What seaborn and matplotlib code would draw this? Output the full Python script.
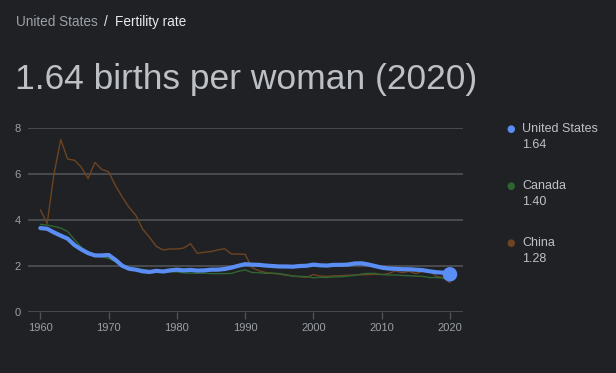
import numpy as np
import pandas as pd
import seaborn as sns
import matplotlib.pyplot as plt

# Fertility rate (births per woman)
years = list(range(1960, 2021))

us_rate = [3.65, 3.62, 3.46, 3.32, 3.19, 2.91, 2.72, 2.56, 2.46, 2.46,
           2.48, 2.27, 2.01, 1.88, 1.84, 1.77, 1.74, 1.79, 1.76, 1.81,
           1.84, 1.81, 1.83, 1.80, 1.81, 1.84, 1.84, 1.87, 1.93, 2.01,
           2.08, 2.06, 2.05, 2.02, 2.00, 1.98, 1.98, 1.97, 2.00, 2.01,
           2.06, 2.03, 2.02, 2.05, 2.05, 2.06, 2.11, 2.12, 2.07, 2.00,
           1.93, 1.89, 1.88, 1.86, 1.86, 1.84, 1.82, 1.77, 1.73, 1.71,
           1.64]

canada_rate = [3.81, 3.78, 3.72, 3.65, 3.50, 3.15, 2.81, 2.60, 2.45, 2.40,
               2.33, 2.19, 2.02, 1.93, 1.87, 1.85, 1.80, 1.77, 1.76, 1.76,
               1.74, 1.70, 1.69, 1.68, 1.69, 1.67, 1.67, 1.67, 1.68, 1.77,
               1.83, 1.72, 1.71, 1.68, 1.69, 1.67, 1.62, 1.56, 1.55, 1.54,
               1.49, 1.51, 1.50, 1.53, 1.53, 1.56, 1.59, 1.65, 1.68, 1.68,
               1.63, 1.61, 1.61, 1.59, 1.58, 1.56, 1.55, 1.50, 1.50, 1.47,
               1.40]

china_rate = [4.45, 3.85, 6.00, 7.50, 6.65, 6.60, 6.30, 5.80, 6.50, 6.20,
              6.10, 5.50, 5.00, 4.55, 4.20, 3.60, 3.25, 2.85, 2.70, 2.74,
              2.74, 2.78, 2.97, 2.55, 2.60, 2.63, 2.70, 2.75, 2.52, 2.52,
              2.51, 1.93, 1.80, 1.72, 1.68, 1.65, 1.60, 1.57, 1.53, 1.51,
              1.63, 1.56, 1.55, 1.57, 1.58, 1.60, 1.61, 1.62, 1.63, 1.64,
              1.63, 1.67, 1.79, 1.71, 1.77, 1.67, 1.77, 1.81, 1.55, 1.50,
              1.28]

countries = ["United States", "Canada", "China"]
latest = ["1.64", "1.40", "1.28"]
colors = {"United States": "#5a8ef5", "Canada": "#2f6533", "China": "#6e4420"}

BG = "#202124"
GRID = "#505256"
MUTED = "#9aa0a6"

sns.set_theme(style="dark")
plt.rcParams["font.family"] = ["Liberation Sans", "DejaVu Sans"]

df = pd.concat([
    pd.DataFrame({"year": years, "rate": us_rate, "country": "United States"}),
    pd.DataFrame({"year": years, "rate": canada_rate, "country": "Canada"}),
    pd.DataFrame({"year": years, "rate": china_rate, "country": "China"}),
])

fig = plt.figure(figsize=(6.16, 3.73), dpi=100, facecolor=BG)
ax = fig.add_axes([0.0455, 0.1635, 0.706, 0.4933])
ax.set_facecolor(BG)

# draw thin lines first, US on top
for name, lw in [("China", 1.0), ("Canada", 1.0), ("United States", 3.0)]:
    sub = df[df["country"] == name]
    sns.lineplot(data=sub, x="year", y="rate", color=colors[name], lw=lw,
                 ax=ax, legend=False, clip_on=False, zorder=3 if name == "United States" else 2)

us_last = df[(df["country"] == "United States") & (df["year"] == 2020)]
sns.scatterplot(data=us_last, x="year", y="rate", color=colors["United States"],
                s=110, edgecolor="none", ax=ax, zorder=4, clip_on=False)

ax.set_xlim(1958.2, 2021.9)
ax.set_ylim(0, 8)
ax.set_yticks([0, 2, 4, 6, 8])
ax.set_xticks(range(1960, 2021, 10))
ax.set_xlabel("")
ax.set_ylabel("")
ax.grid(axis="y", color=GRID, lw=1.2)
ax.grid(axis="x", visible=False)
for s in ax.spines.values():
    s.set_visible(False)
ax.tick_params(axis="y", length=0, pad=5, labelsize=8, labelcolor=MUTED)
ax.tick_params(axis="x", length=5, width=1, color=GRID, pad=3,
               labelsize=8, labelcolor=MUTED, bottom=True)

# header
fig.text(16 / 616, 1 - 22 / 373, "United States", color=MUTED, fontsize=9.8, va="center")
fig.text(104 / 616, 1 - 22 / 373, "/", color="#e8eaed", fontsize=9.8, va="center")
fig.text(115 / 616, 1 - 22 / 373, "Fertility rate", color="#e8eaed", fontsize=9.8, va="center")
fig.text(15 / 616, 1 - 80 / 373, "1.64 births per woman (2020)", color="#bdc1c6",
         fontsize=25.5, va="center")

# legend on the right
for i, (name, val) in enumerate(zip(countries, latest)):
    y = 129 + i * 57
    fig.text(511 / 616, 1 - y / 373, "\u25CF", color=colors[name], fontsize=7,
             ha="center", va="center", family="DejaVu Sans")
    fig.text(522 / 616, 1 - y / 373, name, color="#bdc1c6", fontsize=9, va="center")
    fig.text(522 / 616, 1 - (y + 16) / 373, val, color="#bdc1c6", fontsize=9, va="center")

fig.savefig("out.png", dpi=100, facecolor=BG)
